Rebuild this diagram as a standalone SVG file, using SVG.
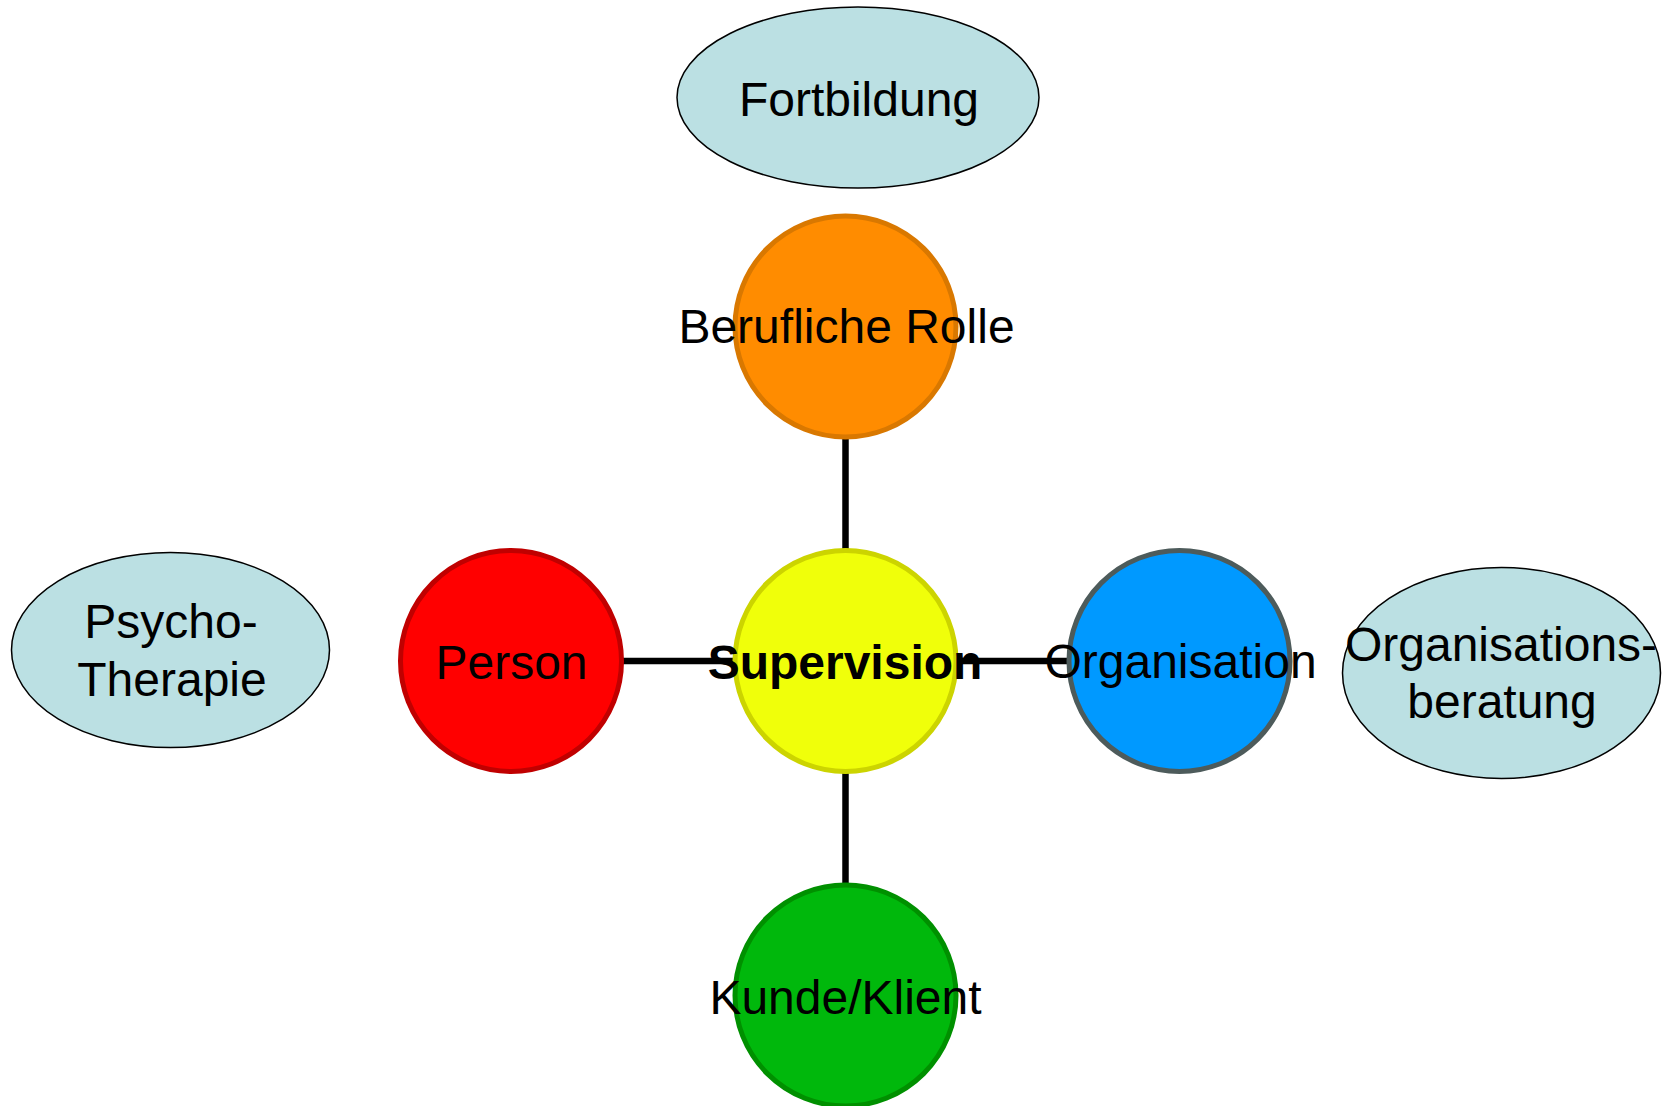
<svg xmlns="http://www.w3.org/2000/svg" width="1671" height="1106" viewBox="0 0 1671 1106">
<style>
.t{font-family:"Liberation Sans",Arial,sans-serif;font-size:48px;fill:#000;text-anchor:middle}
.b{font-weight:bold}
.oval{fill:#BBE0E3;stroke:#000;stroke-width:1.5}
.c{stroke-width:5}
.ln{stroke:#000;stroke-width:6.5;fill:none}
</style>
<rect width="1671" height="1106" fill="#fff"/>
<g id="connectors">
<line class="ln" x1="845.5" y1="438" x2="845.5" y2="550"/>
<line class="ln" x1="845.5" y1="772" x2="845.5" y2="885"/>
<line class="ln" x1="622" y1="661" x2="735" y2="661"/>
<line class="ln" x1="956" y1="661" x2="1069" y2="661"/>
</g>
<g id="fortbildung">
<ellipse class="oval" cx="858" cy="97.5" rx="181" ry="90.5"/>
<text class="t" x="859" y="116">Fortbildung</text>
</g>
<g id="psychotherapie">
<ellipse class="oval" cx="170.5" cy="650" rx="159" ry="97.5"/>
<text class="t" x="171" y="638">Psycho-</text>
<text class="t" x="172" y="696">Therapie</text>
</g>
<g id="organisationsberatung">
<ellipse class="oval" cx="1501.5" cy="673" rx="159" ry="105.5"/>
<text class="t" x="1501" y="661">Organisations-</text>
<text class="t" x="1502" y="718">beratung</text>
</g>
<g id="berufliche-rolle">
<circle class="c" cx="845.5" cy="326.5" r="110.5" fill="#FF8C00" stroke="#D97800"/>
</g>
<g id="person">
<circle class="c" cx="511" cy="661" r="110.5" fill="#FF0000" stroke="#C00000"/>
</g>
<g id="supervision">
<circle class="c" cx="845.5" cy="661" r="110.5" fill="#F0FF0A" stroke="#CCD400"/>
</g>
<g id="organisation">
<circle class="c" cx="1179.5" cy="661" r="110.5" fill="#0099FF" stroke="#4D5B5B"/>
</g>
<g id="kunde-klient">
<circle class="c" cx="845.5" cy="995.5" r="110.5" fill="#00B80C" stroke="#009000"/>
</g>
<g id="labels">
<text class="t" x="846.5" y="343">Berufliche Rolle</text>
<text class="t" x="511.5" y="679">Person</text>
<text class="t b" x="845" y="679">Supervision</text>
<text class="t" x="1180.5" y="678">Organisation</text>
<text class="t" x="845.5" y="1014">Kunde/Klient</text>
</g>
</svg>
